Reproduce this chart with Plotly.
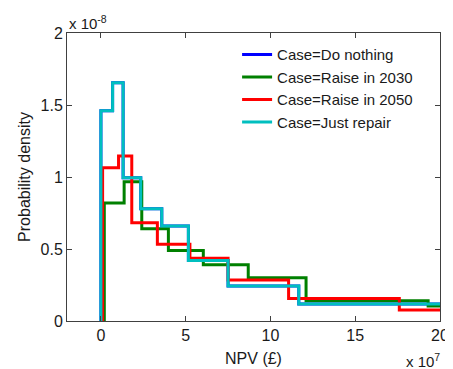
import plotly.graph_objects as go

# Bin edges (x 1e7) and densities (x 1e-8)
cases = ["Case=Do nothing", "Case=Raise in 2030", "Case=Raise in 2050", "Case=Just repair"]
colors = ["#0000FF", "#008000", "#FF0000", "#00BFBF"]

edges_nothing = [0.0, 0.69, 1.31, 2.35, 3.59, 5.16, 7.5, 11.67, 20.0]
dens_nothing = [1.46, 1.655, 0.995, 0.78, 0.66, 0.42, 0.243, 0.118]

edges_2030 = [0.2, 1.37, 2.41, 3.98, 6.04, 8.69, 12.1, 19.3, 20.0]
dens_2030 = [0.82, 0.967, 0.64, 0.49, 0.39, 0.30, 0.14, 0.104]

edges_2050 = [0.1, 1.04, 1.82, 3.33, 5.25, 7.5, 11.07, 17.6, 20.0]
dens_2050 = [1.065, 1.146, 0.683, 0.533, 0.435, 0.285, 0.157, 0.076]

edges_repair = [0.0, 0.69, 1.31, 2.35, 3.59, 5.16, 7.5, 11.67, 20.0]
dens_repair = [1.46, 1.655, 0.995, 0.78, 0.66, 0.42, 0.243, 0.118]

x_ticks = [0, 5, 10, 15, 20]
y_ticks = [0, 0.5, 1, 1.5, 2]
y_ticktext = ["0", "0.5", "1", "1.5", "2"]

series = [(edges_nothing, dens_nothing), (edges_2030, dens_2030),
          (edges_2050, dens_2050), (edges_repair, dens_repair)]

FONT = "Liberation Sans, Arial, Helvetica, sans-serif"
TXT = "#1a1a1a"

fig = go.Figure()
for name, col, (e, d) in zip(cases, colors, series):
    xs = [e[0]] + list(e)
    ys = [0] + list(d) + [d[-1]]
    fig.add_trace(go.Scatter(x=xs, y=ys, mode="lines", name=name,
                             line=dict(color=col, width=3, shape="hv")))

axis_common = dict(showline=True, linecolor="#404040", linewidth=1, mirror="ticks",
                   ticks="inside", ticklen=5, tickcolor="#404040", showgrid=False,
                   zeroline=False, automargin=False,
                   tickfont=dict(size=16, color=TXT, family=FONT))

fig.update_xaxes(range=[-2, 20], tickvals=x_ticks,
                 title=dict(text="NPV (£)", font=dict(size=16, color=TXT, family=FONT), standoff=9),
                 **axis_common)
fig.update_yaxes(range=[0, 2], tickvals=y_ticks, ticktext=y_ticktext,
                 title=dict(text="Probability density", font=dict(size=16, color=TXT, family=FONT), standoff=5),
                 **axis_common)

fig.add_annotation(x=0, y=1, xref="paper", yref="paper", xanchor="left", yanchor="bottom",
                   text="x 10<sup>-8</sup>", showarrow=False, yshift=-1,
                   font=dict(size=15, color=TXT, family=FONT))
fig.add_annotation(x=1, y=0, xref="paper", yref="paper", xanchor="right", yanchor="top",
                   text="x 10<sup>7</sup>", showarrow=False, yshift=-28, xshift=2,
                   font=dict(size=15, color=TXT, family=FONT))

# the page body has an 8px margin, so the figure is 8px smaller and offset
fig.update_layout(
    template="none",
    width=445, height=361,
    margin=dict(l=59, r=13, t=25, b=48),
    paper_bgcolor="white", plot_bgcolor="white",
    font=dict(family=FONT, color=TXT),
    legend=dict(x=0.456, y=0.982, xanchor="left", yanchor="top", bgcolor="rgba(255,255,255,0)",
                borderwidth=0, font=dict(size=15, color=TXT, family=FONT), tracegroupgap=0,
                itemwidth=30),
    showlegend=True,
)

fig.write_html("out.html")
